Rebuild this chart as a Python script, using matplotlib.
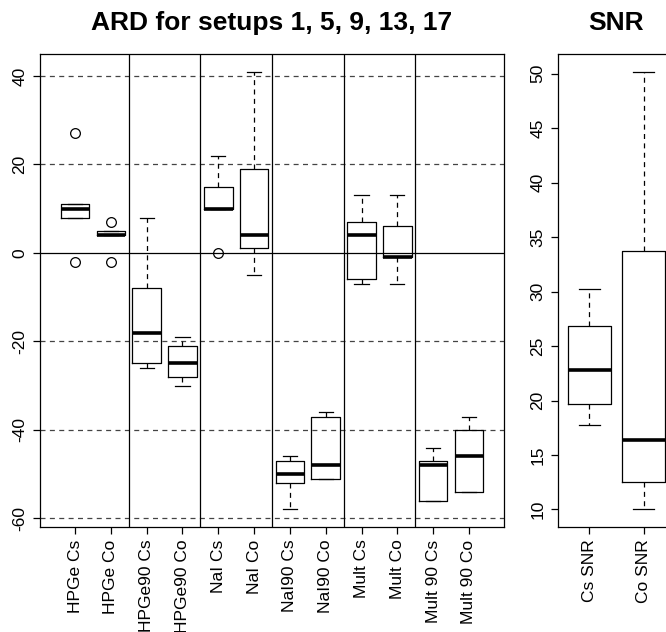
import matplotlib
matplotlib.use("Agg")
import matplotlib.pyplot as plt

plt.rcParams['font.family'] = ['Liberation Sans', 'DejaVu Sans']

# ARD values (%) for setups 1, 5, 9, 13, 17, one list per detector / isotope
ard_labels = ["HPGe Cs", "HPGe Co", "HPGe90 Cs", "HPGe90 Co", "NaI Cs", "NaI Co",
              "NaI90 Cs", "NaI90 Co", "Mult Cs", "Mult Co", "Mult 90 Cs", "Mult 90 Co"]
hpge_cs = [-2, 8, 10, 11, 27]
hpge_co = [-2, 4, 4, 5, 7]
hpge90_cs = [-26, -25, -18, -8, 8]
hpge90_co = [-30, -28, -25, -21, -19]
nai_cs = [0, 10, 10, 15, 22]
nai_co = [-5, 1, 4, 19, 41]
nai90_cs = [-58, -52, -50, -47, -46]
nai90_co = [-51, -51, -48, -37, -36]
mult_cs = [-7, -6, 4, 7, 13]
mult_co = [-7, -1, -1, 6, 13]
mult90_cs = [-56, -56, -48, -47, -44]
mult90_co = [-54, -54, -46, -40, -37]

ard_ticks = [-60, -40, -20, 0, 20, 40]
group_edges = [2.5, 4.5, 6.5, 8.5, 10.5]

# SNR values
snr_labels = ["Cs SNR", "Co SNR"]
cs_snr = [17.8, 19.7, 22.8, 26.8, 30.2]
co_snr = [10.0, 12.5, 16.4, 33.7, 50.2]
snr_ticks = [10, 15, 20, 25, 30, 35, 40, 45, 50]

########################################################################

def r_style_boxplot(ax, data, labels):
	# Boxplot that looks like R's default boxplot()
	ax.boxplot(data, widths=0.8, whis=1.5, patch_artist=False,
			boxprops=dict(color="black", linewidth=0.9),
			medianprops=dict(color="black", linewidth=2.6, solid_capstyle="butt"),
			whiskerprops=dict(color="black", linewidth=0.9, linestyle=(0, (4, 3.5))),
			capprops=dict(color="black", linewidth=0.9),
			flierprops=dict(marker="o", markersize=7, markerfacecolor="none",
							markeredgecolor="black", markeredgewidth=0.9))
	n = len(data)
	ax.set_xlim(0.5 - 0.04 * n, n + 0.5 + 0.04 * n)
	ax.set_xticks(range(1, n + 1))
	ax.set_xticklabels(labels, rotation=90, fontsize=12.5)
	for tl in ax.get_yticklabels():
		tl.set_rotation(90)
		tl.set_va("center")
	ax.tick_params(axis="x", length=5, pad=4, width=0.9)
	ax.tick_params(axis="y", length=5, pad=4, width=0.9, labelsize=12.5)
	for s in ax.spines.values():
		s.set_linewidth(0.9)

fig = plt.figure(figsize=(6.66, 6.32), dpi=100)
H = 632.0
W = 666.0
bottom = 1 - 527 / H
height = (527 - 54) / H

ax1 = fig.add_axes([40 / W, bottom, 464 / W, height])
ard_data = [hpge_cs, hpge_co, hpge90_cs, hpge90_co, nai_cs, nai_co,
			nai90_cs, nai90_co, mult_cs, mult_co, mult90_cs, mult90_co]
all_vals = [v for d in ard_data for v in d]
lo, hi = min(all_vals), max(all_vals)
pad = 0.04 * (hi - lo)
ax1.set_ylim(lo - pad, hi + pad)
ax1.set_yticks(ard_ticks)
ax1.set_yticklabels([str(t) for t in ard_ticks])

# grid: dashed horizontal lines, solid zero line, solid group separators
for t in ard_ticks:
	if t == 0:
		ax1.axhline(t, color="black", linewidth=0.9, zorder=0)
	else:
		ax1.axhline(t, color="#444444", linewidth=0.9, linestyle=(0, (4, 3.5)), zorder=0)
for e in group_edges:
	ax1.axvline(e, color="black", linewidth=0.9, zorder=0)

r_style_boxplot(ax1, ard_data, ard_labels)
ax1.set_title("ARD for setups 1, 5, 9, 13, 17", fontsize=19, fontweight="bold", pad=17)

ax2 = fig.add_axes([558 / W, bottom, 117 / W, height])
snr_data = [cs_snr, co_snr]
all_snr = cs_snr + co_snr
lo, hi = min(all_snr), max(all_snr)
pad = 0.04 * (hi - lo)
ax2.set_ylim(lo - pad, hi + pad)
ax2.set_yticks(snr_ticks)
ax2.set_yticklabels([str(t) for t in snr_ticks])
r_style_boxplot(ax2, snr_data, snr_labels)
ax2.set_title("SNR", fontsize=19, fontweight="bold", pad=17)

fig.savefig("out.png", dpi=100)
